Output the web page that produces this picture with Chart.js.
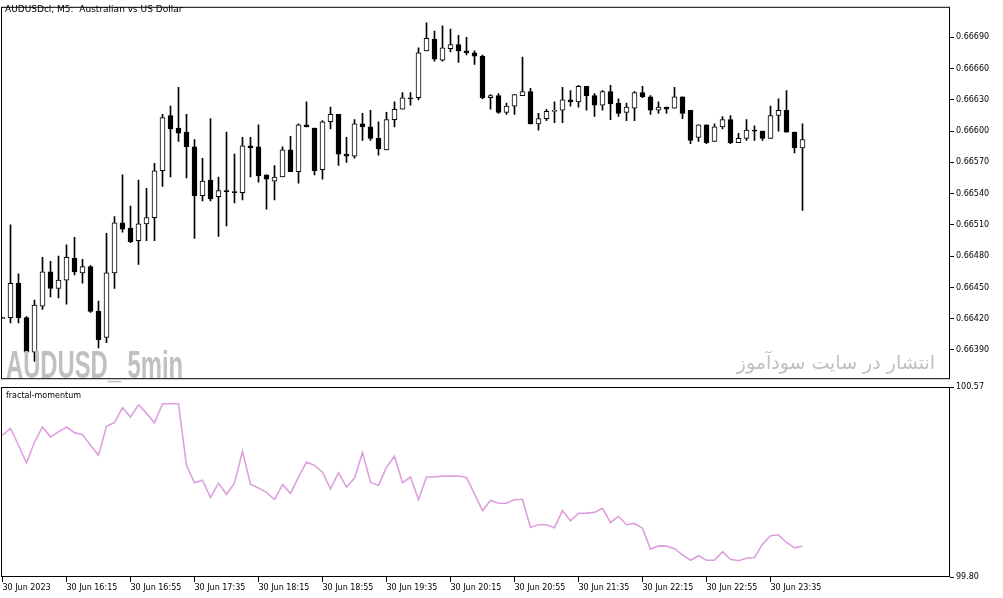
<!DOCTYPE html>
<html>
<head>
<meta charset="utf-8">
<script src="https://cdn.jsdelivr.net/npm/chart.js@4.4.0/dist/chart.umd.min.js"></script>
<style>
  body { margin: 0; background: #fff; width: 1003px; height: 598px; overflow: hidden; position: relative; }
  canvas { position: absolute; left: 0; }
  #top { top: 0; }
  #bottom { top: 378px; }
  .txt { position: absolute; white-space: nowrap; color: #000; font-family: 'DejaVu Sans', sans-serif; }
  #title { left: 5px; top: 5px; font-size: 9px; line-height: 9px; }
  #ind { left: 6px; top: 392px; font-size: 8px; line-height: 8px; }
  #wm1 { left: 6px; top: 345px; font-family: 'Liberation Sans', sans-serif; font-weight: bold; font-size: 39px; line-height: 39px; color: #c0c0c0; transform: scaleX(0.61); transform-origin: left top; }
  #wm2 { right: 68px; top: 353px; font-size: 19px; line-height: 19px; color: #c0c0c0; direction: rtl; text-align: right; }
</style>
</head>
<body>
<canvas id="top" width="1003" height="386"></canvas>
<canvas id="bottom" width="1003" height="220"></canvas>
<div class="txt" id="title">AUDUSDcl, M5:&nbsp; Australian vs US Dollar</div>
<div class="txt" id="ind">fractal-momentum</div>
<div class="txt" id="wm1">AUDUSD_ 5min</div>
<div class="txt" id="wm2">انتشار در سایت سودآموز</div>
<script>
// 5 minute bars, 30 Jun 2023 15:35 .. 23:55
const open = [0.66420,0.66421,0.66454,0.66421,0.66388,0.66432,0.66465,0.66449,0.66457,0.66478,
  0.66464,0.66470,0.66427,0.66402,0.66464,0.66512,0.66507,0.66495,0.66511,0.66517,
  0.66562,0.66615,0.66603,0.66599,0.66585,0.66538,0.66553,0.66537,0.66543,0.66542,
  0.66541,0.66586,0.66585,0.66558,0.66552,0.66556,0.66582,0.66561,0.66606,0.66603,
  0.66563,0.66609,0.66616,0.66578,0.66576,0.66607,0.66604,0.66593,0.66582,0.66611,
  0.66621,0.66632,0.66632,0.66677,0.66688,0.66668,0.66679,0.66683,0.66677,0.66675,
  0.66672,0.66632,0.66634,0.66618,0.66624,0.66634,0.66638,0.66607,0.66612,0.66619,
  0.66620,0.66630,0.66628,0.66643,0.66634,0.66625,0.66638,0.66627,0.66618,0.66622,
  0.66637,0.66633,0.66620,0.66623,0.66622,0.66633,0.66620,0.66594,0.66606,0.66590,
  0.66604,0.66611,0.66589,0.66593,0.66601,0.66600,0.66593,0.66615,0.66620,0.66599,
  0.66584];
const high = [0.66421,0.66510,0.66463,0.66422,0.66438,0.66479,0.66475,0.66480,0.66491,0.66498,
  0.66477,0.66471,0.66437,0.66502,0.66518,0.66558,0.66528,0.66553,0.66545,0.66569,
  0.66616,0.66624,0.66642,0.66616,0.66592,0.66574,0.66612,0.66556,0.66599,0.66578,
  0.66594,0.66594,0.66606,0.66558,0.66567,0.66585,0.66595,0.66607,0.66628,0.66603,
  0.66610,0.66623,0.66616,0.66594,0.66611,0.66617,0.66620,0.66609,0.66618,0.66628,
  0.66637,0.66637,0.66680,0.66704,0.66696,0.66701,0.66698,0.66692,0.66690,0.66677,
  0.66673,0.66635,0.66636,0.66627,0.66635,0.66671,0.66641,0.66617,0.66621,0.66628,
  0.66642,0.66639,0.66644,0.66643,0.66636,0.66639,0.66644,0.66631,0.66627,0.66638,
  0.66643,0.66634,0.66628,0.66623,0.66642,0.66633,0.66620,0.66606,0.66606,0.66607,
  0.66614,0.66615,0.66598,0.66611,0.66605,0.66600,0.66624,0.66631,0.66639,0.66599,
  0.66607];
const low = [0.66420,0.66416,0.66416,0.66382,0.66379,0.66429,0.66441,0.66440,0.66434,0.66462,
  0.66454,0.66426,0.66392,0.66397,0.66449,0.66503,0.66493,0.66472,0.66495,0.66495,
  0.66547,0.66556,0.66590,0.66555,0.66497,0.66533,0.66533,0.66499,0.66509,0.66531,
  0.66534,0.66556,0.66551,0.66525,0.66534,0.66556,0.66561,0.66550,0.66604,0.66558,
  0.66554,0.66602,0.66567,0.66570,0.66574,0.66591,0.66591,0.66577,0.66582,0.66604,
  0.66621,0.66625,0.66630,0.66677,0.66667,0.66667,0.66676,0.66666,0.66673,0.66664,
  0.66631,0.66621,0.66617,0.66616,0.66616,0.66634,0.66607,0.66601,0.66610,0.66608,
  0.66608,0.66624,0.66623,0.66620,0.66614,0.66620,0.66611,0.66614,0.66610,0.66610,
  0.66632,0.66616,0.66617,0.66617,0.66622,0.66612,0.66588,0.66590,0.66588,0.66590,
  0.66602,0.66588,0.66589,0.66591,0.66591,0.66591,0.66593,0.66600,0.66599,0.66579,
  0.66524];
const close = [0.66421,0.66454,0.66421,0.66388,0.66433,0.66465,0.66449,0.66457,0.66479,0.66465,
  0.66470,0.66427,0.66400,0.66464,0.66512,0.66506,0.66494,0.66511,0.66517,0.66562,
  0.66613,0.66602,0.66598,0.66585,0.66538,0.66552,0.66535,0.66543,0.66542,0.66541,
  0.66586,0.66584,0.66557,0.66554,0.66556,0.66582,0.66561,0.66606,0.66604,0.66562,
  0.66609,0.66616,0.66578,0.66576,0.66607,0.66604,0.66593,0.66583,0.66611,0.66621,
  0.66632,0.66631,0.66675,0.66689,0.66669,0.66680,0.66683,0.66677,0.66675,0.66672,
  0.66632,0.66634,0.66618,0.66624,0.66635,0.66638,0.66607,0.66612,0.66619,0.66620,
  0.66630,0.66628,0.66643,0.66634,0.66625,0.66638,0.66626,0.66617,0.66623,0.66637,
  0.66633,0.66620,0.66623,0.66621,0.66633,0.66617,0.66591,0.66606,0.66589,0.66604,
  0.66611,0.66589,0.66593,0.66601,0.66600,0.66593,0.66615,0.66620,0.66599,0.66584,
  0.66592];
const momentum = [100.374,100.402,100.334,100.262,100.347,100.408,100.368,100.388,100.408,100.385,
  100.377,100.334,100.293,100.411,100.426,100.486,100.448,100.498,100.463,100.425,
  100.502,100.502,100.502,100.252,100.182,100.192,100.122,100.180,100.135,100.180,
  100.309,100.176,100.161,100.143,100.114,100.174,100.139,100.205,100.266,100.252,
  100.225,100.157,100.223,100.164,100.201,100.304,100.184,100.171,100.245,100.289,
  100.182,100.205,100.114,100.205,100.205,100.209,100.209,100.209,100.203,100.137,
  100.069,100.110,100.099,100.099,100.114,100.114,100.001,100.012,100.012,100.000,
  100.069,100.028,100.058,100.059,100.062,100.078,100.021,100.046,100.012,100.017,
  99.997,99.913,99.926,99.925,99.915,99.890,99.868,99.886,99.868,99.868,
  99.903,99.872,99.866,99.876,99.879,99.933,99.967,99.971,99.940,99.918,
  99.926];

// time axis labels every 8 bars
const timeTickBars = [0, 8, 16, 24, 32, 40, 48, 56, 64, 72, 80, 88, 96];
const timeTickText = ['30 Jun 2023', '30 Jun 16:15', '30 Jun 16:55', '30 Jun 17:35', '30 Jun 18:15',
  '30 Jun 18:55', '30 Jun 19:35', '30 Jun 20:15', '30 Jun 20:55', '30 Jun 21:35',
  '30 Jun 22:15', '30 Jun 22:55', '30 Jun 23:35'];
const priceTicks = [0.66390, 0.66420, 0.66450, 0.66480, 0.66510, 0.66540, 0.66570, 0.66600, 0.66630, 0.66660, 0.66690];
const momentumTicks = [99.80, 100.57];

const X_MIN = -0.1875, X_MAX = 118.4375;

Chart.defaults.font.family = "'DejaVu Sans', sans-serif";
Chart.defaults.font.size = 8;
Chart.defaults.color = '#000';

// black frame round each pane
const frame = {
  id: 'frame',
  afterDraw(chart) {
    const a = chart.chartArea, ctx = chart.ctx;
    ctx.save();
    ctx.strokeStyle = '#000';
    ctx.lineWidth = 1;
    ctx.strokeRect(a.left + 0.5, a.top + 0.5, a.right - a.left - 1, a.bottom - a.top - 1);
    ctx.restore();
  }
};

const wicks = [], bodies = [], bodyColors = [], line = [];
for (let i = 0; i < open.length; i++) {
  wicks.push({ x: i, y: [low[i], high[i]] });
  bodies.push({ x: i, y: [Math.min(open[i], close[i]), Math.max(open[i], close[i])] });
  bodyColors.push(close[i] >= open[i] ? '#ffffff' : '#000000');
  line.push({ x: i, y: momentum[i] });
}

const noPlugins = { legend: { display: false }, tooltip: { enabled: false } };

new Chart(document.getElementById('top'), {
  type: 'bar',
  data: {
    datasets: [
      {
        data: bodies,
        backgroundColor: bodyColors,
        borderColor: '#000',
        borderWidth: 1,
        borderSkipped: false,
        barThickness: 5,
        grouped: false,
        order: 0,
      },
      {
        data: wicks,
        backgroundColor: '#000',
        borderWidth: 0,
        barThickness: 1,
        grouped: false,
        order: 1,
      },
    ],
  },
  options: {
    responsive: false,
    animation: false,
    devicePixelRatio: 1,
    layout: { padding: { left: 1, top: 2, right: 0, bottom: 2 } },
    plugins: noPlugins,
    scales: {
      x: { type: 'linear', min: X_MIN, max: X_MAX, display: false, offset: false },
      y: {
        position: 'right',
        min: 0.6636198,
        max: 0.6671928,
        afterFit: (s) => { s.width = 53; },
        afterBuildTicks: (s) => { s.ticks = priceTicks.map((v) => ({ value: v })); },
        ticks: { callback: (v) => v.toFixed(5), padding: 2, color: '#000' },
        grid: { drawOnChartArea: false, tickLength: 4, color: '#000' },
        border: { display: false },
      },
    },
  },
  plugins: [frame],
});

new Chart(document.getElementById('bottom'), {
  type: 'line',
  data: {
    datasets: [
      {
        data: line,
        borderColor: '#dda0dd',
        borderWidth: 1.6,
        pointRadius: 0,
        tension: 0,
      },
    ],
  },
  options: {
    responsive: false,
    animation: false,
    devicePixelRatio: 1,
    layout: { padding: { left: 1, top: 9, right: 0, bottom: 0 } },
    plugins: noPlugins,
    scales: {
      x: {
        type: 'linear',
        min: X_MIN,
        max: X_MAX,
        afterFit: (s) => { s.height = 21; },
        afterBuildTicks: (s) => { s.ticks = timeTickBars.map((v) => ({ value: v })); },
        ticks: {
          callback: (v, i) => timeTickText[i],
          align: 'start',
          maxRotation: 0,
          autoSkip: false,
          padding: 1,
          color: '#000',
        },
        grid: { drawOnChartArea: false, tickLength: 5, color: '#000' },
        border: { display: false },
      },
      y: {
        position: 'right',
        min: 99.80,
        max: 100.57,
        afterFit: (s) => { s.width = 53; },
        afterBuildTicks: (s) => { s.ticks = momentumTicks.map((v) => ({ value: v })); },
        ticks: { callback: (v) => v.toFixed(2), padding: 2, color: '#000' },
        grid: { drawOnChartArea: false, tickLength: 4, color: '#000' },
        border: { display: false },
      },
    },
  },
  plugins: [frame],
});
</script>
</body>
</html>
